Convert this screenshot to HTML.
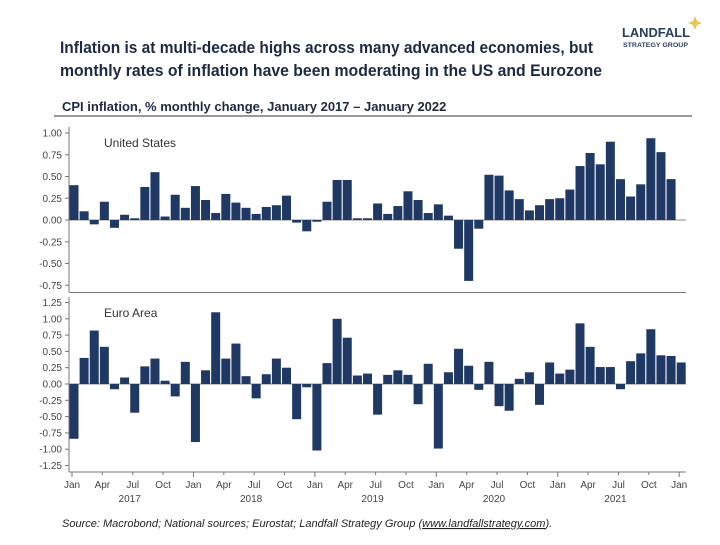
<!DOCTYPE html>
<html><head><meta charset="utf-8"><style>
body{margin:0;background:#fff;}
svg text{font-family:"Liberation Sans",sans-serif;}
</style></head><body>
<svg id="c" width="720" height="540" viewBox="0 0 720 540" xmlns="http://www.w3.org/2000/svg">
<text x="60" y="53" font-size="16.5" font-weight="bold" fill="#1c2a44" textLength="533" lengthAdjust="spacingAndGlyphs">Inflation is at multi-decade highs across many advanced economies, but</text>
<text x="60" y="76" font-size="16.5" font-weight="bold" fill="#1c2a44" textLength="542" lengthAdjust="spacingAndGlyphs">monthly rates of inflation have been moderating in the US and Eurozone</text>
<g>
<text x="622" y="37" font-size="13" font-weight="bold" fill="#2b3d5e" textLength="68" lengthAdjust="spacingAndGlyphs">LANDFALL</text>
<text x="623" y="47" font-size="6" font-weight="bold" fill="#2b3d5e" textLength="65" lengthAdjust="spacingAndGlyphs">STRATEGY GROUP</text>
<path d="M695 16 L697 21 L702 23 L697 25 L695 30 L693 25 L688 23 L693 21 Z" fill="#e8c65a"/>
</g>
<text x="62" y="111" font-size="13" font-weight="bold" fill="#1c2a44">CPI inflation, % monthly change, January 2017 – January 2022</text>
<line x1="54" y1="116" x2="692" y2="116" stroke="#333" stroke-width="1"/>
<g id="plot"></g>
<text x="62" y="527" font-size="11" font-style="italic" fill="#222">Source: Macrobond; National sources; Eurostat; Landfall Strategy Group (<tspan text-decoration="underline">www.landfallstrategy.com</tspan>).</text>
</svg>
<script>
const usValues=[0.40,0.10,-0.05,0.21,-0.09,0.06,0.02,0.38,0.55,0.04,0.29,0.14,
0.39,0.23,0.08,0.30,0.20,0.14,0.07,0.15,0.17,0.28,-0.03,-0.13,
-0.02,0.21,0.46,0.46,0.02,0.02,0.19,0.07,0.16,0.33,0.23,0.08,
0.18,0.05,-0.33,-0.70,-0.10,0.52,0.51,0.34,0.24,0.11,0.17,0.24,
0.25,0.35,0.62,0.77,0.64,0.90,0.47,0.27,0.41,0.94,0.78,0.47];
const euroValues=[-0.84,0.40,0.82,0.57,-0.08,0.10,-0.44,0.27,0.39,0.05,-0.19,0.34,
-0.89,0.21,1.10,0.39,0.62,0.12,-0.22,0.15,0.39,0.25,-0.54,-0.05,
-1.02,0.32,1.00,0.71,0.13,0.16,-0.47,0.14,0.21,0.14,-0.31,0.31,
-0.99,0.18,0.54,0.28,-0.09,0.34,-0.34,-0.41,0.08,0.18,-0.32,0.33,
0.16,0.22,0.93,0.57,0.26,0.26,-0.08,0.35,0.47,0.84,0.44,0.43,0.33];
const monthLabels=["Jan","Apr","Jul","Oct"];
const yearLabels=["2017","2018","2019","2020","2021"];
const usTicks=[1.00,0.75,0.50,0.25,0.00,-0.25,-0.50,-0.75];
const euroTicks=[1.25,1.00,0.75,0.50,0.25,0.00,-0.25,-0.50,-0.75,-1.00,-1.25];
const NS="http://www.w3.org/2000/svg";
const g=document.getElementById('plot');
function mk(t,a,p){const e=document.createElementNS(NS,t);for(const k in a)e.setAttribute(k,a[k]);(p||g).appendChild(e);return e;}
const L=69,R=686,x0=74,step=10.12,bw=9;
const xs=i=>x0+i*step;
const yUS=v=>220-v*87;
const yEU=v=>384-v*65.2;
function panel(vals,ys,ticks,top,bot,name,label){
  const ax=mk('line',{x1:L,y1:top,x2:L,y2:bot,stroke:'#777','stroke-width':1});
  
  
  ticks.forEach(t=>{
    const y=ys(t);
    const tk=mk('line',{x1:L-4,y1:y,x2:L,y2:y,stroke:'#777'});
    
    
    const tx=mk('text',{x:L-7,y:y+3.5,'font-size':10,'text-anchor':'end',fill:'#444'});
    tx.textContent=t.toFixed(2);
    
    
  });
  const z=mk('line',{x1:L,y1:ys(0),x2:R,y2:ys(0),stroke:'#888'});
  
  
  vals.forEach((v,i)=>{
    const y=Math.min(ys(v),ys(0)),h=Math.abs(ys(v)-ys(0));
    const b=mk('rect',{x:xs(i)-bw/2,y:y,width:bw,height:Math.max(h,1),fill:'#1f3864'});
    
    
  });
  const lb=mk('text',{x:104,y:top+20,'font-size':12,fill:'#333'});
  lb.textContent=label;
  
  
}
panel(usValues,yUS,usTicks,127,292,'us','United States');
const dv=mk('line',{x1:L,y1:292.5,x2:R,y2:292.5,stroke:'#777'});


panel(euroValues,yEU,euroTicks,297,472,'euro','Euro Area');
const xa=mk('line',{x1:L,y1:472,x2:R,y2:472,stroke:'#777'});


for(let i=0;i<=60;i+=3){
  const x=xs(i)-2;
  const tk=mk('line',{x1:x,y1:472,x2:x,y2:i%12==0?477:475,stroke:'#777'});
  
  
  const t=mk('text',{x:x,y:488,'font-size':10,'text-anchor':'middle',fill:'#444'});
  t.textContent=monthLabels[(i/3)%4];
  
  
}
yearLabels.forEach((yr,k)=>{
  const t=mk('text',{x:xs(k*12+5.5),y:502,'font-size':10,'text-anchor':'middle',fill:'#444'});
  t.textContent=yr;
  
  
});
</script>
</body></html>
